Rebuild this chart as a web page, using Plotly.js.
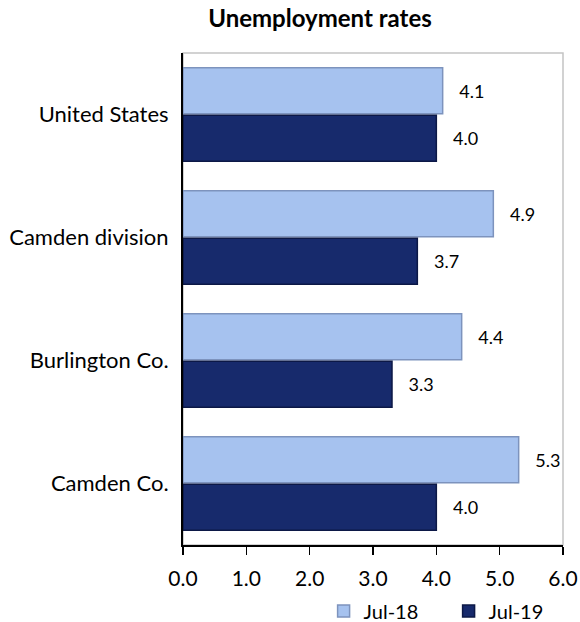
<!DOCTYPE html>
<html>
<head>
<meta charset="utf-8">
<script src="https://cdn.plot.ly/plotly-3.0.1.min.js"></script>
<style>html,body{margin:0;padding:0;background:#fff;}#chart{width:580px;height:622px;}</style>
</head>
<body>
<div id="chart"></div>
<script>
const categories = ["United States", "Camden division", "Burlington Co.", "Camden Co."];
const seriesNames = ["Jul-18", "Jul-19"];
const jul18 = [4.1, 4.9, 4.4, 5.3];
const jul19 = [4.0, 3.7, 3.3, 4.0];
const xTicks = [0, 1, 2, 3, 4, 5, 6];

const FONT = "Lato, 'Open Sans', 'Liberation Sans', sans-serif";
const LABEL_GAP = "\u2002\u00a0";

const traces = [
  {
    type: "bar", orientation: "h", name: seriesNames[0],
    y: categories, x: jul18,
    marker: {color: "#a6c2ef", line: {color: "#7d93bd", width: 1.5}},
    texttemplate: LABEL_GAP + "%{x:.1f}", textposition: "outside",
    textfont: {size: 18, color: "#000", family: FONT},
    cliponaxis: false, hoverinfo: "x+name"
  },
  {
    type: "bar", orientation: "h", name: seriesNames[1],
    y: categories, x: jul19,
    marker: {color: "#172a6c", line: {color: "#0c1846", width: 1.5}},
    texttemplate: LABEL_GAP + "%{x:.1f}", textposition: "outside",
    textfont: {size: 18, color: "#000", family: FONT},
    cliponaxis: false, hoverinfo: "x+name"
  }
];

const layout = {
  width: 580, height: 622,
  margin: {l: 183, r: 17, t: 53, b: 77, pad: 0, autoexpand: false},
  paper_bgcolor: "#fff", plot_bgcolor: "#fff",
  font: {family: FONT, color: "#000"},
  title: {
    text: "<b>Unemployment rates</b>",
    font: {size: 24, family: FONT, color: "#000"},
    x: 320 / 580, xref: "container", xanchor: "center",
    y: 1 - 19 / 622, yref: "container", yanchor: "middle"
  },
  barmode: "group", bargap: 0.228, bargroupgap: 0.03,
  xaxis: {
    range: [0, 6], tickvals: xTicks, tickformat: ".1f",
    ticks: "outside", ticklen: 8, tickwidth: 1.5, tickcolor: "#000",
    showline: true, linecolor: "#000", linewidth: 1.5,
    showgrid: false, zeroline: false,
    ticklabelstandoff: 6,
    tickfont: {size: 21, family: FONT, color: "#000"},
    fixedrange: true
  },
  xaxis2: {
    overlaying: "x", anchor: "y", side: "bottom",
    range: [0, 6], tickvals: xTicks,
    ticks: "inside", ticklen: 5, tickwidth: 1.5, tickcolor: "#000",
    showticklabels: false, showline: false, showgrid: false, zeroline: false,
    fixedrange: true
  },
  yaxis: {
    type: "category", autorange: "reversed",
    showline: true, linecolor: "#000", linewidth: 2,
    ticks: "", showgrid: false, zeroline: false,
    ticklabelstandoff: 8,
    tickfont: {size: 22, family: FONT, color: "#000"},
    fixedrange: true
  },
  shapes: [{
    type: "rect", xref: "paper", yref: "paper", x0: 0, x1: 1, y0: 0, y1: 1,
    line: {color: "#c4c4c4", width: 1.5}, layer: "below"
  }],
  legend: {
    orientation: "h", x: 0.37, xanchor: "left", y: -0.134, yanchor: "middle",
    font: {size: 20, family: FONT, color: "#000"},
    traceorder: "normal", itemwidth: 30, entrywidth: 80
  },
  showlegend: true
};

Plotly.newPlot("chart", traces, layout, {displayModeBar: false, staticPlot: true});
</script>
</body>
</html>
